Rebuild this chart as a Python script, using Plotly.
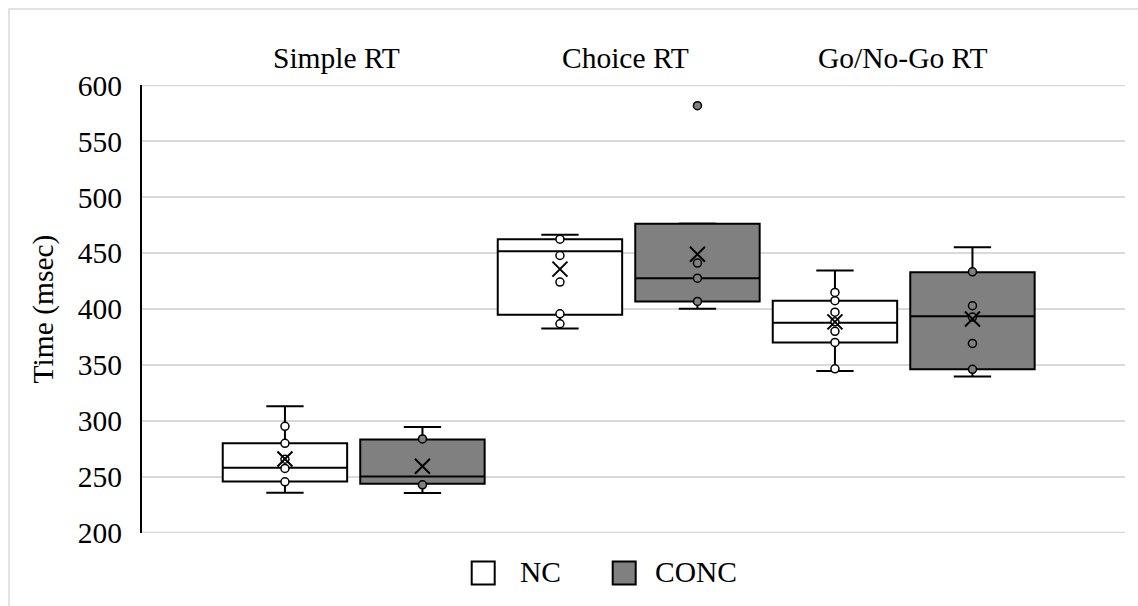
import plotly.graph_objects as go

# ---- data (msec) ----
categories = ["Simple RT", "Choice RT", "Go/No-Go RT"]
groups = ["NC", "CONC"]

nc_lower = [235.5, 382.6, 344.5]
nc_q1 = [245.6, 394.9, 370.1]
nc_median = [257.8, 451.8, 387.7]
nc_q3 = [279.8, 462.5, 407.4]
nc_upper = [312.9, 466.4, 434.5]
nc_mean = [265.8, 435.7, 388.5]

conc_lower = [235.2, 400.2, 339.5]
conc_q1 = [243.5, 406.8, 346.0]
conc_median = [250.0, 427.6, 393.4]
conc_q3 = [283.1, 476.2, 433.0]
conc_upper = [294.4, 476.6, 455.3]
conc_mean = [259.3, 449.0, 391.0]

nc_points = [
    [245.3, 257.3, 265.5, 279.8, 295.0],
    [386.8, 395.7, 424.1, 447.9, 462.5],
    [346.5, 370.1, 380.0, 388.5, 397.2, 407.4, 414.8],
]
conc_points = [
    [242.6, 283.7],
    [406.8, 427.6, 441.1],
    [346.0, 369.2, 392.8, 402.9, 433.3],
]
conc_outliers = [[], [582.0], []]

y_min, y_max, y_step = 200, 600, 50

# ---- layout geometry (pixels) ----
W, H = 1138, 606
L, R, T, B = 142, 13, 85, 72.5
PW, PH = W - L - R, H - T - B
FONT = "Liberation Serif"
FS = 29.5
GRAY = "#808080"
GRID = "#d9d9d9"
X_RANGE = [-0.7698, 2.8047]


def px(x):
    return (x - L) / PW


def py(y):
    return (H - B - y) / PH


offset = 0.25
box_w = 0.4524
pos_nc = [i - offset for i in range(len(categories))]
pos_conc = [i + offset for i in range(len(categories))]

fig = go.Figure()

# gridlines at both ends of the value range, drawn beneath everything else
for v in (y_min, y_max):
    fig.add_trace(go.Scatter(
        x=X_RANGE, y=[v, v], mode="lines", showlegend=False,
        hoverinfo="skip", cliponaxis=False,
        line=dict(color=GRID, width=1.5)))

box_style = dict(line=dict(color="black", width=2), whiskerwidth=0.3,
                 width=box_w, showlegend=False, hoverinfo="skip")
fig.add_trace(go.Box(name=groups[0], x=pos_nc, q1=nc_q1, median=nc_median,
                     q3=nc_q3, lowerfence=nc_lower, upperfence=nc_upper,
                     fillcolor="white", **box_style))
fig.add_trace(go.Box(name=groups[1], x=pos_conc, q1=conc_q1,
                     median=conc_median, q3=conc_q3, lowerfence=conc_lower,
                     upperfence=conc_upper, fillcolor=GRAY, **box_style))


def flatten(pos, pts):
    xs, ys = [], []
    for p, vals in zip(pos, pts):
        xs += [p] * len(vals)
        ys += vals
    return xs, ys


for pos, pts, fill in [(pos_nc, nc_points, "white"),
                       (pos_conc, conc_points, GRAY),
                       (pos_conc, conc_outliers, GRAY)]:
    xs, ys = flatten(pos, pts)
    fig.add_trace(go.Scatter(
        x=xs, y=ys, mode="markers", showlegend=False, hoverinfo="skip",
        marker=dict(symbol="circle", size=8, color=fill,
                    line=dict(color="black", width=1.5))))

fig.add_trace(go.Scatter(
    x=pos_nc + pos_conc, y=nc_mean + conc_mean, mode="markers",
    showlegend=False, hoverinfo="skip",
    marker=dict(symbol="x-thin", size=15, color="black",
                line=dict(color="black", width=2))))

# category labels above the plot
label_x = [-0.062, 0.988, 1.996]
annotations = [dict(x=lx, y=py(58), xref="x", yref="paper", text=c,
                    showarrow=False, xanchor="center", yanchor="middle",
                    font=dict(family=FONT, size=FS, color="black"))
               for lx, c in zip(label_x, categories)]

# outer frame
shapes = [
    dict(type="rect", xref="paper", yref="paper", layer="below",
         x0=px(9), x1=px(1160), y0=py(630), y1=py(9),
         line=dict(color=GRID, width=1.5), fillcolor="rgba(0,0,0,0)"),
]

# legend: square swatches + names
legend_items = [(groups[0], "white", 471.7, 518), (groups[1], GRAY, 612.7, 652.7)]
for name, fill, sx, tx in legend_items:
    shapes.append(dict(type="rect", xref="paper", yref="paper",
                       x0=px(sx), x1=px(sx + 23), y0=py(585), y1=py(562),
                       line=dict(color="black", width=2), fillcolor=fill))
    annotations.append(dict(x=px(tx), y=py(573), xref="paper", yref="paper",
                            text=name, showarrow=False, xanchor="left",
                            yanchor="middle",
                            font=dict(family=FONT, size=FS, color="black")))

fig.update_layout(
    width=W, height=H,
    margin=dict(l=L, r=R, t=T, b=B, pad=0),
    paper_bgcolor="white", plot_bgcolor="white",
    font=dict(family=FONT, size=FS, color="black"),
    showlegend=False,
    annotations=annotations,
    shapes=shapes,
    xaxis=dict(range=X_RANGE, showticklabels=False, showgrid=False,
               zeroline=False, showline=False, fixedrange=True),
    yaxis=dict(range=[y_min - 0.5, y_max + 0.5], dtick=y_step, tick0=y_min,
               showgrid=True, gridcolor=GRID, gridwidth=1.5, zeroline=False,
               showline=True, linecolor="black", linewidth=2, ticks="",
               ticklabelstandoff=12,
               tickfont=dict(family=FONT, size=FS, color="black"),
               title=dict(text="Time (msec)", standoff=16,
                          font=dict(family=FONT, size=FS, color="black"))),
)

fig.write_html("out.html")
